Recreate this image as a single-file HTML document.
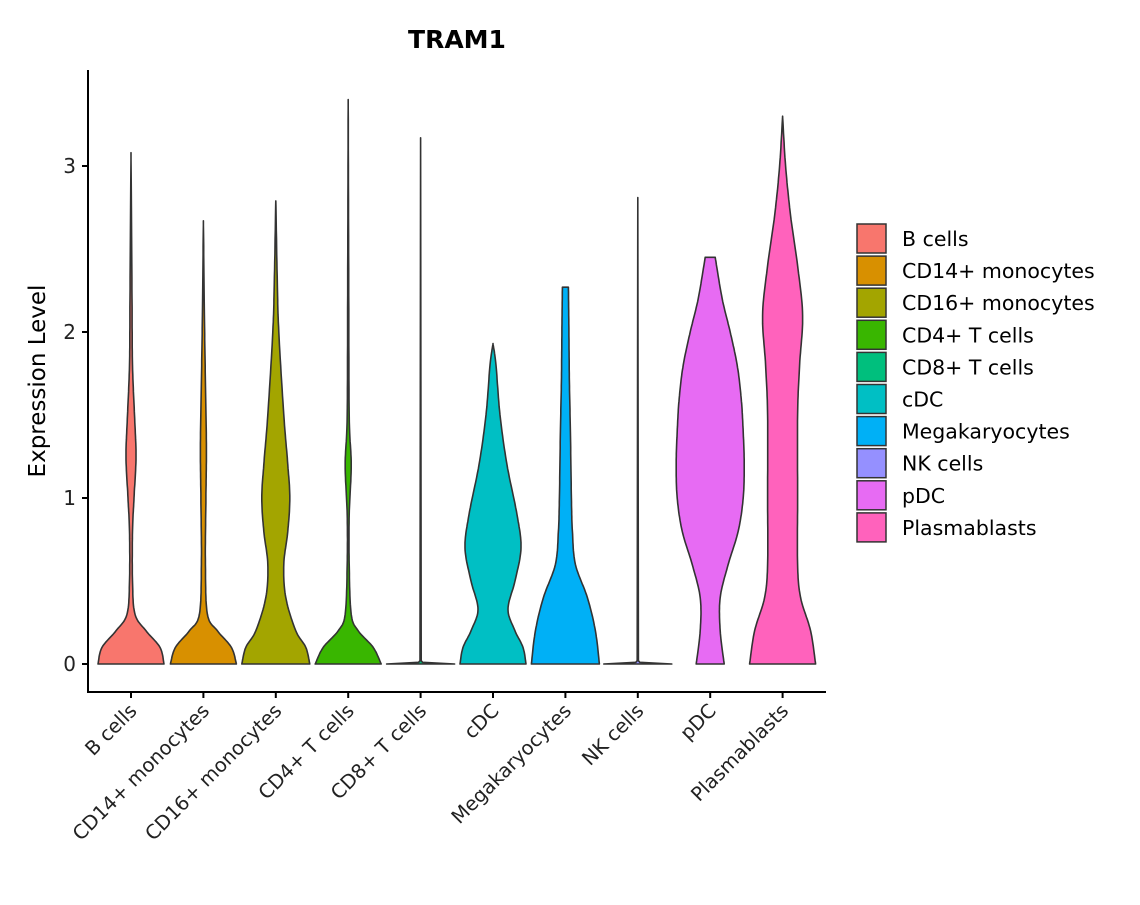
<!DOCTYPE html>
<html><head><meta charset="utf-8"><style>
body{margin:0;background:#fff;}
svg{font-family:"DejaVu Sans","Liberation Sans",sans-serif;}
</style></head><body>
<svg id="chart" width="1140" height="900"></svg>
<script>
const categories=["B cells","CD14+ monocytes","CD16+ monocytes","CD4+ T cells","CD8+ T cells","cDC","Megakaryocytes","NK cells","pDC","Plasmablasts"];
const colors=["#F8766D","#D89000","#A3A500","#39B600","#00BF7D","#00BFC4","#00B0F6","#9590FF","#E76BF3","#FF62BC"];
const yTicks=[0,1,2,3];
// density profiles: [expression, half-width(relative, max ~34)]
const profBcells=[[0,33],[0.1,29],[0.2,15],[0.3,4],[0.5,1.5],[0.8,1.5],[1.0,3],[1.25,5],[1.5,3.5],[1.8,1.5],[2.2,1],[3.08,0]];
const profCD14=[[0,33],[0.1,28],[0.2,14],[0.3,4],[0.6,2],[1.0,2.5],[1.3,3],[1.7,2],[2.1,1],[2.67,0]];
const profCD16=[[0,34],[0.1,30],[0.2,20],[0.4,10],[0.6,8],[0.8,12],[1.0,14],[1.2,12],[1.5,8],[2.0,3],[2.3,1.5],[2.79,0]];
const profCD4=[[0,33],[0.1,25],[0.2,10],[0.3,3],[0.6,1],[0.9,1],[1.2,3],[1.5,1],[2.3,0.5],[3.4,0]];
const profCD8=[[0,34],[0.01,2],[0.02,0.6],[3.17,0]];
const profcDC=[[0,33],[0.1,30],[0.2,22],[0.33,15],[0.5,22],[0.7,28],[0.9,24],[1.2,14],[1.5,7],[1.8,3],[1.93,0]];
const profMega=[[0,34],[0.2,30],[0.4,22],[0.6,10],[0.8,7],[1.0,6],[1.4,5],[1.7,4],[2.0,3.5],[2.27,3]];
const profNK=[[0,34],[0.01,2],[0.02,0.6],[2.81,0]];
const profpDC=[[0,14],[0.2,10],[0.4,10],[0.6,18],[0.8,28],[1.0,33],[1.2,34],[1.4,33],[1.6,31],[1.8,27],[2.0,20],[2.2,12],[2.45,5]];
const profPlasma=[[0,33],[0.2,28],[0.4,18],[0.6,15],[1.0,15],[1.5,15],[1.8,17],[2.1,20],[2.4,15],[2.7,8],[3.0,3],[3.3,0]];
const profiles=[profBcells,profCD14,profCD16,profCD4,profCD8,profcDC,profMega,profNK,profpDC,profPlasma];

const NS="http://www.w3.org/2000/svg";
const svg=document.getElementById('chart');
const X0=131,DX=72.4;
const xs=i=>X0+i*DX;
const ys=v=>664-v*166;
function mk(t,a,p){const e=document.createElementNS(NS,t);for(const k in a)e.setAttribute(k,a[k]);(p||svg).appendChild(e);return e;}
function smooth(p){
  const out=[];
  for(let i=0;i<p.length-1;i++){
    const p0=p[Math.max(0,i-1)],p1=p[i],p2=p[i+1],p3=p[Math.min(p.length-1,i+2)];
    for(let s=0;s<12;s++){const t=s/12,t2=t*t,t3=t2*t;
      const f=(a,b,c,d)=>0.5*(2*b+(-a+c)*t+(2*a-5*b+4*c-d)*t2+(-a+3*b-3*c+d)*t3);
      out.push([f(p0[0],p1[0],p2[0],p3[0]),Math.max(0,f(p0[1],p1[1],p2[1],p3[1]))]);}
  }
  out.push(p[p.length-1]);return out;
}

let t=mk('text',{x:457,y:48,'text-anchor':'middle','font-size':25,'font-weight':'bold',fill:'#000'});t.textContent="TRAM1";



profiles.forEach((p0,i)=>{
  const cx=xs(i);
  const p=p0.length>4?smooth(p0):p0;
  let right=p.map(([v,w])=>[cx+w,ys(v)]);
  let left=p.slice().reverse().map(([v,w])=>[cx-w,ys(v)]);
  let d="M"+right.map(q=>q[0].toFixed(1)+","+q[1].toFixed(1)).join(" L");
  d+=" L"+left.map(q=>q[0].toFixed(1)+","+q[1].toFixed(1)).join(" L")+" Z";
  const el=mk('path',{d:d,fill:colors[i],stroke:'#333','stroke-width':1.6,'stroke-linejoin':'round'});
  
  
});

let ax=mk('line',{x1:88,y1:70,x2:88,y2:692,stroke:'#000','stroke-width':2});


ax=mk('line',{x1:87,y1:692,x2:826,y2:692,stroke:'#000','stroke-width':2});


yTicks.forEach(v=>{
  mk('line',{x1:82,y1:ys(v),x2:88,y2:ys(v),stroke:'#000','stroke-width':2});
  const l=mk('text',{x:76,y:ys(v)+7,'text-anchor':'end','font-size':20,fill:'#222'});l.textContent=v;
  
  
});
categories.forEach((c,i)=>{
  mk('line',{x1:xs(i),y1:692,x2:xs(i),y2:698,stroke:'#000','stroke-width':2});
  const l=mk('text',{x:xs(i)+7,y:712,'text-anchor':'end','font-size':19.5,fill:'#222',transform:`rotate(-45 ${xs(i)+7} 712)`});l.textContent=c;
  
  
});
t=mk('text',{x:45,y:381,'text-anchor':'middle','font-size':23,fill:'#000',transform:'rotate(-90 45 381)'});t.textContent="Expression Level";



categories.forEach((c,i)=>{
  const y=224+i*32.1;
  const r=mk('rect',{x:857,y:y,width:29,height:29,fill:colors[i],stroke:'#333','stroke-width':1.5});
  
  
  const l=mk('text',{x:902,y:y+22,'font-size':20.5,fill:'#000'});l.textContent=c;
  
  
});
</script>
</body></html>
